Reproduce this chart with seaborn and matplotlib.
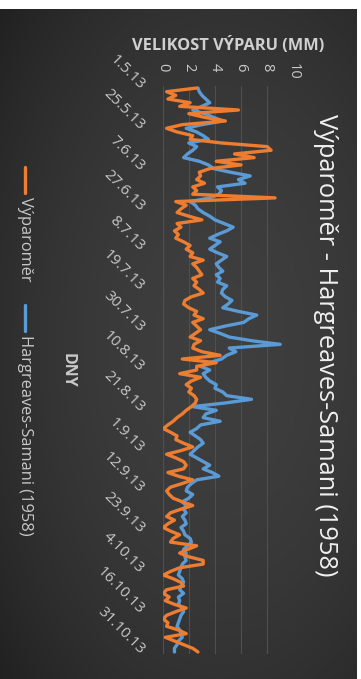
import numpy as np
import pandas as pd
import matplotlib.pyplot as plt
import seaborn as sns
from matplotlib.lines import Line2D

dny_popisky = ['1.5.13', '25.5.13', '7.6.13', '27.6.13', '8.7.13', '19.7.13', '30.7.13',
               '10.8.13', '21.8.13', '1.9.13', '12.9.13', '23.9.13', '4.10.13', '16.10.13',
               '31.10.13']
hodnoty_osy = [0, 2, 4, 6, 8, 10]

vyparomer = [
    2.6, 0.3, 1.0, 0.4, 2.1, 1.3, 5.8, 2.0, 3.2, 4.8,
    1.5, 0.3, 1.1, 2.3, 2.1, 4.5, 8.0, 8.3, 5.5, 7.0,
    4.1, 6.0, 3.6, 2.8, 2.9, 2.6, 3.2, 2.3, 2.6, 2.3,
    8.6, 1.0, 1.8, 1.4, 1.1, 2.0, 3.0, 1.1, 1.4, 0.9,
    1.2, 1.0, 1.6, 2.1, 1.8, 2.3, 2.1, 3.1, 2.3, 2.6,
    2.8, 3.0, 2.3, 2.6, 2.4, 2.8, 3.1, 2.2, 1.7, 1.6,
    2.0, 2.6, 2.4, 3.1, 2.3, 2.6, 2.9, 2.5, 2.1, 2.9,
    2.4, 2.3, 3.0, 4.4, 1.5, 4.1, 2.6, 2.6, 1.3, 2.9,
    2.2, 1.8, 2.2, 2.0, 2.4, 2.6, 2.5, 2.2, 1.8, 1.5,
    1.1, 0.8, 0.4, 0.05, 0.6, 1.1, 1.0, 1.6, 2.3, 1.4,
    0.3, 1.0, 1.6, 1.8, 1.6, 0.4, 1.2, 2.3, 1.5, 0.6,
    0.3, 0.5, 0.8, 1.5, 2.3, 1.4, 0.6, 0.3, 0.9, 0.4,
    0.05, 0.6, 1.3, 0.8, 0.6, 2.6, 1.9, 1.3, 2.0, 3.1,
    3.1, 1.3, 0.6, 0.05, 0.8, 1.4, 1.6, 0.3, 0.05, 0.5,
    0.2, 0.9, 1.8, 1.0, 0.3, 0.05, 0.4, 0.3, 1.2, 1.8,
    0.2, 0.9, 1.6, 2.3, 2.7,
]

hargreaves = [
    2.7, 2.8, 3.0, 3.3, 3.6, 3.0, 2.3, 3.2, 3.9, 4.6,
    3.0, 1.8, 2.6, 3.1, 3.5, 2.0, 2.6, 2.3, 1.9, 1.6,
    2.8, 3.5, 3.9, 5.2, 6.7, 5.8, 6.3, 4.2, 4.5, 4.3,
    3.6, 2.1, 2.5, 2.7, 3.1, 3.6, 4.0, 4.7, 5.4, 4.9,
    4.2, 3.6, 4.4, 4.0, 3.6, 4.2, 4.9, 4.5, 4.1, 4.3,
    4.6, 4.1, 4.4, 4.2, 4.9, 4.6, 4.5, 4.8, 5.3, 5.0,
    4.6, 5.8, 7.2, 6.6, 6.2, 4.8, 3.6, 4.4, 5.1, 6.8,
    9.0, 5.1, 5.6, 4.9, 4.5, 3.6, 2.9, 3.6, 3.1, 3.3,
    3.6, 4.1, 4.0, 4.6, 4.9, 6.8, 4.8, 2.3, 4.1, 3.3,
    3.1, 4.4, 2.9, 2.6, 2.1, 2.5, 2.9, 3.1, 2.7, 2.4,
    2.1, 2.6, 3.1, 3.6, 3.1, 3.8, 4.3, 2.6, 2.2, 1.9,
    1.8, 2.3, 2.0, 1.5, 1.8, 1.6, 1.8, 1.5, 1.7, 1.8,
    1.4, 1.6, 1.7, 2.1, 2.2, 1.9, 1.6, 1.8, 1.7, 1.8,
    1.5, 1.4, 1.3, 1.2, 1.5, 1.6, 1.4, 1.3, 1.6, 1.2,
    1.3, 1.2, 1.5, 1.6, 1.4, 1.3, 1.2, 1.1, 1.3, 1.4,
    1.5, 1.2, 1.1, 0.9, 0.9,
]

ORANZOVA = '#ED7D31'
MODRA = '#5B9BD5'
SEDA_TEXT = '#c8c8c8'

sns.set_theme(style='dark')
plt.rcParams['font.family'] = ['Open Sans', 'DejaVu Sans']

n = len(vyparomer)
df = pd.DataFrame({
    'den': np.arange(n),
    'Výparoměr': vyparomer,
    'Hargreaves-Samani (1958)': hargreaves,
}).melt(id_vars='den', var_name='rada', value_name='vypar')

W, H = 361, 679
fig = plt.figure(figsize=(W / 100, H / 100), dpi=100, facecolor='white')

# dark radial background (white strip on top and right like the source scan)
bg = fig.add_axes([0, 0, 357 / W, 670 / H])
yy, xx = np.mgrid[0:1:300j, 0:1:160j]
r = np.sqrt(((xx - 0.62) / 0.8) ** 2 + ((yy - 0.5) / 0.75) ** 2)
shade = np.clip(0.245 - 0.11 * r ** 2, 0.13, 0.245)
bg.imshow(np.dstack([shade] * 3), aspect='auto', extent=[0, 1, 0, 1], interpolation='bilinear')
bg.set_axis_off()

# main axes: values horizontal, days running downward (chart rotated 90°)
left, right = 162.7, 293.3
top, bottom = 86.2, 653.8
ax = fig.add_axes([left / W, 1 - bottom / H, (right - left) / W, (bottom - top) / H])
ax.set_facecolor('none')

sns.lineplot(data=df, x='vypar', y='den', hue='rada', orient='y', estimator=None,
             hue_order=['Hargreaves-Samani (1958)', 'Výparoměr'],
             palette=[MODRA, ORANZOVA], linewidth=2.4, legend=False, ax=ax,
             solid_joinstyle='round', solid_capstyle='round')

ax.set_xlim(0, 10)
ax.set_ylim(n - 0.5, -0.5)
for s in ax.spines.values():
    s.set_visible(False)

ax.grid(axis='x', color='#4f4f4f', linewidth=0.8)
ax.grid(axis='y', visible=False)

ax.xaxis.tick_top()
ax.set_xticks(hodnoty_osy)
ax.set_xticklabels([str(v) for v in hodnoty_osy], rotation=-90, va='top', ha='center',
                   color=SEDA_TEXT, fontsize=10.5)
ax.tick_params(axis='x', length=0, pad=17)

ax.set_yticks(np.arange(0, n, 11))
ax.set_yticklabels(dny_popisky, rotation=-45, ha='right', va='center',
                   rotation_mode='anchor', color=SEDA_TEXT, fontsize=11)
ax.tick_params(axis='y', length=0, pad=15)
ax.set_yticks(np.arange(0, n, 7), minor=True)
ax.tick_params(axis='y', which='minor', length=3, direction='inout', color='#5a5a5a', width=0.8)
ax.axvline(0, color='#555555', linewidth=0.8, zorder=0)

ax.set_xlabel('VELIKOST VÝPARU (MM)', fontsize=11.8, fontweight='bold', color='#d0d0d0')
ax.xaxis.set_label_position('top')
ax.xaxis.set_label_coords(0.5, (bottom - 50) / (bottom - top))

ax.set_ylabel('DNY', rotation=-90, fontsize=11.5, fontweight='bold', color='#c8c8c8',
              va='center', ha='center')
ax.yaxis.set_label_coords((68 - left) / (right - left), 0.5)

fig.text(325 / W, 1 - 345 / H, 'Výparoměr - Hargreaves-Samani (1958)', rotation=-90,
         ha='center', va='center', fontsize=18.3, color='#f0f0f0')

# legend drawn by hand, rotated like the rest of the chart
for barva, text, y0, y1 in [(ORANZOVA, 'Výparoměr', 167, 193),
                            (MODRA, 'Hargreaves-Samani (1958)', 305, 331)]:
    fig.add_artist(Line2D([25 / W, 25 / W], [1 - y0 / H, 1 - y1 / H],
                          transform=fig.transFigure, color=barva, linewidth=2.4))
    fig.text(25 / W, 1 - (y1 + 4) / H, text, rotation=-90, ha='center', va='top',
             fontsize=11.8, color=SEDA_TEXT)

fig.savefig('out.png', dpi=100, facecolor=fig.get_facecolor())
